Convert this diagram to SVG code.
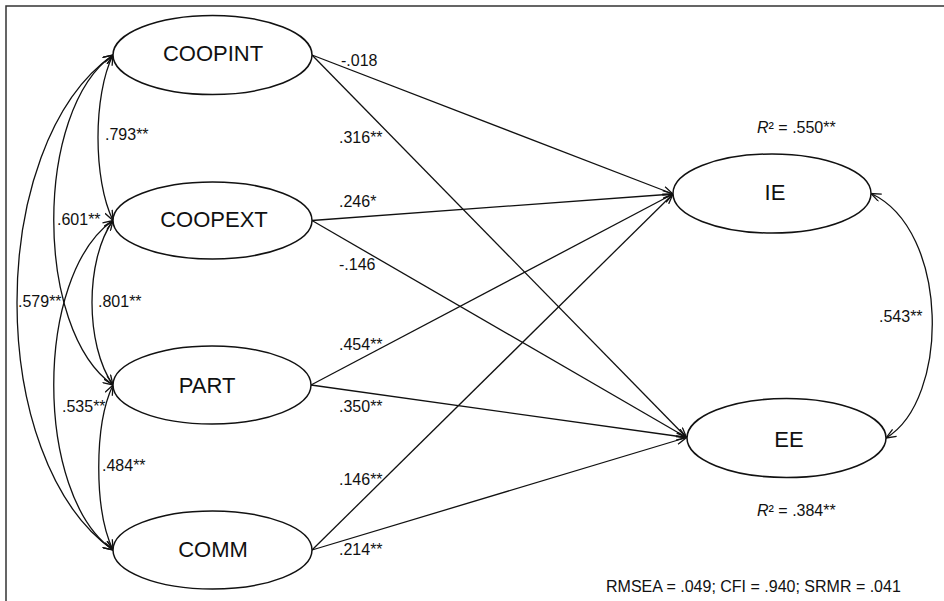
<svg xmlns="http://www.w3.org/2000/svg" width="944" height="601" viewBox="0 0 944 601">
<style>
.node ellipse{fill:#fff;stroke:#111;stroke-width:1.5}
.node text{font-family:"Liberation Sans",Arial,sans-serif;font-size:22px;fill:#111;text-anchor:middle}
.edge{fill:none;stroke:#111;stroke-width:1.3}
.lbl{font-family:"Liberation Sans",Arial,sans-serif;font-size:16px;fill:#111}
</style>
<defs>
<marker id="ah" viewBox="0 0 11 9" refX="10.5" refY="4.5" markerWidth="11" markerHeight="9" markerUnits="userSpaceOnUse" orient="auto-start-reverse">
<path d="M0.5,0.5 L10.5,4.5 L0.5,8.5" fill="none" stroke="#111" stroke-width="1.3"/>
</marker>
</defs>
<rect width="944" height="601" fill="#fff"/>
<path d="M6,601 V6 H944" fill="none" stroke="#333" stroke-width="1.5"/>
<g id="connectors">
<line class="edge" x1="312" y1="55" x2="673" y2="194" marker-end="url(#ah)"/>
<line class="edge" x1="312" y1="55" x2="686.5" y2="437.5" marker-end="url(#ah)"/>
<line class="edge" x1="312" y1="220.5" x2="673" y2="194" marker-end="url(#ah)"/>
<line class="edge" x1="312" y1="220.5" x2="686.5" y2="437.5" marker-end="url(#ah)"/>
<line class="edge" x1="311" y1="385" x2="673" y2="194" marker-end="url(#ah)"/>
<line class="edge" x1="311" y1="385" x2="686.5" y2="437.5" marker-end="url(#ah)"/>
<line class="edge" x1="312" y1="550" x2="673" y2="194" marker-end="url(#ah)"/>
<line class="edge" x1="312" y1="550" x2="686.5" y2="437.5" marker-end="url(#ah)"/>
<path class="edge" d="M113,55 C93,95 93,180 113,220.5" marker-start="url(#ah)" marker-end="url(#ah)"/>
<path class="edge" d="M113,220.5 C85,260 85,345 113,385" marker-start="url(#ah)" marker-end="url(#ah)"/>
<path class="edge" d="M113,385 C94,425 94,510 113,550" marker-start="url(#ah)" marker-end="url(#ah)"/>
<path class="edge" d="M113,55 C34,110 34,330 113,385" marker-start="url(#ah)" marker-end="url(#ah)"/>
<path class="edge" d="M113,220.5 C34,275 34,495 113,550" marker-start="url(#ah)" marker-end="url(#ah)"/>
<path class="edge" d="M113,55 C-15,145 -15,460 113,550" marker-start="url(#ah)" marker-end="url(#ah)"/>
<path class="edge" d="M871,193.5 C950,230 950,400 886,438" marker-start="url(#ah)" marker-end="url(#ah)"/>
</g>
<g id="COOPINT" class="node"><ellipse cx="212.5" cy="55" rx="99.5" ry="39.5"/><text x="213" y="61">COOPINT</text></g>
<g id="COOPEXT" class="node"><ellipse cx="212.5" cy="220.5" rx="99.5" ry="38.5"/><text x="214" y="227">COOPEXT</text></g>
<g id="PART" class="node"><ellipse cx="212" cy="385" rx="99" ry="39"/><text x="207" y="393">PART</text></g>
<g id="COMM" class="node"><ellipse cx="212.5" cy="550" rx="99.5" ry="39"/><text x="213" y="557">COMM</text></g>
<g id="IE" class="node"><ellipse cx="772" cy="193.5" rx="99" ry="39.5"/><text x="775" y="200">IE</text></g>
<g id="EE" class="node"><ellipse cx="786.5" cy="438" rx="99.5" ry="39.5"/><text x="789" y="447">EE</text></g>
<g id="labels" class="lbl">
<text x="105" y="140">.793**</text>
<text x="57" y="225">.601**</text>
<text x="98" y="307">.801**</text>
<text x="18" y="307">.579**</text>
<text x="62" y="412">.535**</text>
<text x="102" y="471">.484**</text>
<text x="341" y="66">-.018</text>
<text x="339" y="143">.316**</text>
<text x="339" y="207">.246*</text>
<text x="339" y="270">-.146</text>
<text x="339" y="350">.454**</text>
<text x="339" y="412">.350**</text>
<text x="339" y="485">.146**</text>
<text x="339" y="555">.214**</text>
<text x="757" y="133"><tspan font-style="italic">R</tspan>² = .550**</text>
<text x="757" y="516"><tspan font-style="italic">R</tspan>² = .384**</text>
<text x="879" y="322">.543**</text>
<text x="606" y="592">RMSEA = .049; CFI = .940; SRMR = .041</text>
</g>
</svg>
